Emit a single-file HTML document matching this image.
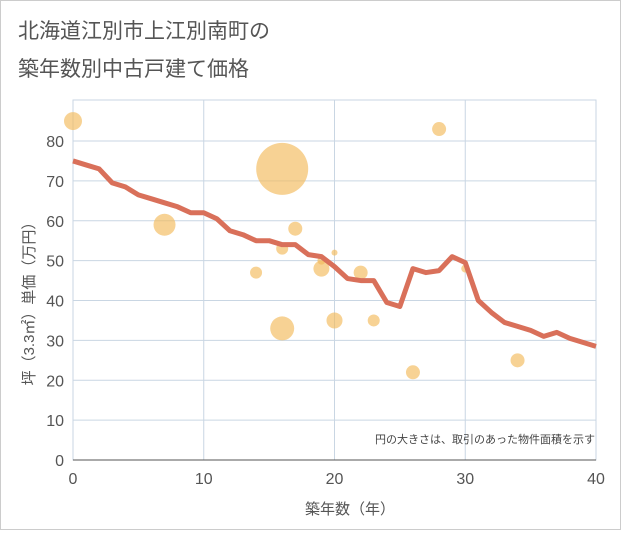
<!DOCTYPE html>
<html><head><meta charset="utf-8"><style>
body{margin:0;background:#fff;}
svg text{font-family:"Liberation Sans","Noto Sans CJK JP",sans-serif;}
</style></head><body>
<svg width="621" height="530" viewBox="0 0 621 530">
<rect x="0.5" y="0.5" width="620" height="529" fill="#fff" stroke="#ccc"/>
<text x="18" y="38" font-size="21" fill="#555">北海道江別市上江別南町の</text>
<text x="18" y="76" font-size="21" fill="#555">築年数別中古戸建て価格</text>
<g id="grid"></g>
<g id="bubbles"></g>
<g id="line"></g>
<g id="axes"></g>
<text x="595" y="443" font-size="11" fill="#444" text-anchor="end">円の大きさは、取引のあった物件面積を示す</text>
<text x="350" y="514" font-size="15" fill="#555" text-anchor="middle">築年数（年）</text>
<text transform="translate(34,300) rotate(-90)" font-size="15" fill="#555" text-anchor="middle">坪（3.3㎡）単価（万円）</text>
</svg>
<script>
const xTicks=[0,10,20,30,40];
const yTicks=[0,10,20,30,40,50,60,70,80];
const lineX=[0,1,2,3,4,5,6,7,8,9,10,11,12,13,14,15,16,17,18,19,20,21,22,23,24,25,26,27,28,29,30,31,32,33,34,35,36,37,38,39,40];
const lineY=[75,74,73,69.5,68.5,66.5,65.5,64.5,63.5,62,62,60.5,57.5,56.5,55,55,54,54,51.5,51,48.5,45.5,45,45,39.5,38.5,48,47,47.5,51,49.5,40,37,34.5,33.5,32.5,31,32,30.5,29.5,28.5];
const bubX=[0,7,14,16,16,16,17,19,19,20,20,22,23,26,28,30,34];
const bubY=[85,59,47,73,53,33,58,48,50,52,35,47,35,22,83,48,25];
const bubR=[9,11,6,26,6,12,7,8,4,3,8,7,6,7,7,4,7];
const NS='http://www.w3.org/2000/svg';
const X0=73,X1=596,Y0=460,Y80=141;
const sx=v=>X0+(X1-X0)*v/40, sy=v=>Y0-(Y0-Y80)*v/80;
function mk(t,a,p){const e=document.createElementNS(NS,t);for(const k in a)e.setAttribute(k,a[k]);p.appendChild(e);return e;}
const g=document.getElementById('grid'),ax=document.getElementById('axes');
mk('rect',{x:X0,y:100,width:X1-X0,height:Y0-100,fill:'none',stroke:'#c9d6e3'},g);
xTicks.forEach(t=>{const l=mk('line',{x1:sx(t),x2:sx(t),y1:100,y2:Y0,stroke:'#c9d6e3'},g);

const tx=mk('text',{x:sx(t),y:484,'font-size':16,fill:'#555','text-anchor':'middle'},ax);tx.textContent=t;
});
yTicks.forEach(t=>{const l=mk('line',{x1:X0,x2:X1,y1:sy(t),y2:sy(t),stroke:'#c9d6e3'},g);

const tx=mk('text',{x:64,y:sy(t)+6,'font-size':16,fill:'#555','text-anchor':'end'},ax);tx.textContent=t;
});
mk('line',{x1:X0,x2:X1,y1:Y0,y2:Y0,stroke:'#555'},ax);
const b=document.getElementById('bubbles');
bubX.forEach((v,i)=>{const c=mk('circle',{cx:sx(v),cy:sy(bubY[i]),r:bubR[i],fill:'rgba(242,186,90,0.65)'},b);
});
const pts=lineX.map((v,i)=>sx(v)+','+sy(lineY[i])).join(' ');
const pl=mk('polyline',{points:pts,fill:'none',stroke:'#d9705a','stroke-width':5,'stroke-linejoin':'round'},document.getElementById('line'));

</script>
</body></html>
